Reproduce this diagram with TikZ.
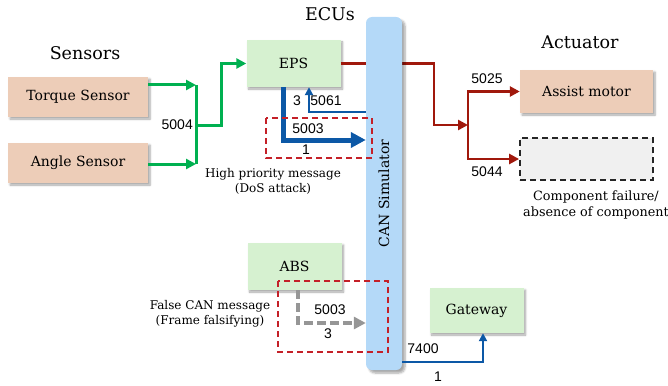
\documentclass[tikz,border=0pt]{standalone}
\usepackage{fontspec}
\setmainfont{DejaVu Serif}
\newfontfamily\numfont{Liberation Sans}
\usepackage{tikz}
\usetikzlibrary{arrows.meta,shadows.blur,positioning}
\definecolor{sensorfill}{RGB}{237,205,184}
\definecolor{ecufill}{RGB}{214,241,208}
\definecolor{canfill}{RGB}{180,217,248}
\definecolor{sigreen}{RGB}{0,176,80}
\definecolor{sigred}{RGB}{160,24,12}
\definecolor{sigblue}{RGB}{12,88,166}
\definecolor{atkred}{RGB}{196,32,40}
\definecolor{sigray}{RGB}{150,150,150}

\tikzset{
	box/.style={minimum width=140pt,minimum height=40pt,inner sep=0pt,
		font=\fontsize{14}{16}\selectfont,
		blur shadow={shadow xshift=2pt,shadow yshift=-2pt,shadow blur steps=6,shadow opacity=35}},
	sensor/.style={box,fill=sensorfill},
	ecu/.style={box,fill=ecufill,minimum width=94pt,minimum height=47pt},
	title/.style={font=\fontsize{17.5}{19}\selectfont},
	note/.style={font=\fontsize{12}{15}\selectfont,align=center},
	num/.style={font=\numfont\fontsize{14}{15}\selectfont,inner sep=1pt},
	gline/.style={sigreen,line width=3pt},
	rline/.style={sigred,line width=2.8pt},
	bline/.style={sigblue,line width=2.7pt},
	tip/.style={-{Triangle[length=10pt,width=10pt]}},
	atkbox/.style={atkred,line width=1.5pt,dash pattern=on 6pt off 4pt}
}

\begin{document}
\begin{tikzpicture}[x=1pt,y=-1pt]
	\useasboundingbox (0,0) rectangle (668,385);
	
	\foreach \x/\y/\t in {85/53/Sensors,330/14/ECUs,580/42/Actuator}
	\node[title] at (\x,\y) {\t};
	
	% sensors, ECUs, actuators
	\node[sensor] (torque) at (78,97) {Torque Sensor};
	\node[sensor] (angle) at (78,163) {Angle Sensor};
	\node[ecu] (eps) at (293.5,63.5) {EPS};
	\node[ecu] (abs) at (294.5,266.5) {ABS};
	\node[ecu,minimum height=45pt] (gw) at (476.5,310.5) {Gateway};
	\node[sensor,minimum width=133pt,minimum height=43pt] (motor) at (586.5,91.5) {Assist motor};
	\node[minimum width=133pt,minimum height=42pt,fill=black!6,draw=black!85,
	line width=1.8pt,dash pattern=on 6pt off 4pt] (absent) at (586.5,159) {};
	
	% green: sensors -> EPS
	\coordinate (gj) at (196,125);
	\draw[gline,tip] ([yshift=12pt]torque.east) -- ([yshift=12pt]torque.east -| gj);
	\draw[gline,tip] ([yshift=-1pt]angle.east) -- ([yshift=-1pt]angle.east -| gj);
	\draw[gline] ([yshift=12pt]torque.east -| gj) -- ([yshift=-1pt]angle.east -| gj);
	\draw[gline,tip] (gj) -- ++(25,0) |- (eps.west);
	\node[num,left=2pt] at (gj) {5004};
	
	% red: EPS -> actuators (runs under the bus)
	\coordinate (rj) at (468,125);
	\draw[rline,tip] (eps.east) -- (434,63.5) |- (rj);
	\draw[rline,tip] (rj) |- (motor.west);
	\draw[rline,tip] (rj) |- (absent.west);
	\node[num] at (487,79) {5025};
	\node[num] at (487,172) {5044};
	
	% the bus
	\node[rotate=90,minimum width=353pt,minimum height=36pt,fill=canfill,rounded corners=6pt,
	inner sep=0pt,font=\fontsize{14}{16}\selectfont,
	blur shadow={shadow xshift=3pt,shadow yshift=-3pt,shadow blur steps=6,shadow opacity=35}]
	(can) at (384,193.5) {CAN Simulator};
	
	% DoS attack on EPS
	\draw[bline,-{Triangle[length=8pt,width=8pt]}] (can.north |- 0,112) -| ([xshift=15.5pt]eps.south);
	\node[num] at (297,101) {3};
	\node[num] at (326,101) {5061};
	\draw[sigblue,line width=5pt,-{Triangle[length=15pt,width=15pt]}]
	([xshift=-10.5pt]eps.south) |- (can.north |- 0,140);
	\node[num] at (308,129) {5003};
	\node[num] at (306,150) {1};
	\draw[atkbox] (266,118) rectangle (372,158);
	\node[note] at (273,181) {High priority message\\(DoS attack)};
	
	% falsified frame from ABS
	\draw[sigray,line width=4pt,dash pattern=on 9pt off 4pt,-{Triangle[length=12pt,width=12pt]}]
	([xshift=3.5pt]abs.south) |- (can.north |- 0,323);
	\node[num] at (330,310) {5003};
	\node[num] at (328,334) {3};
	\draw[atkbox] (278,281) rectangle (388,352);
	\node[note] at (210,314) {False CAN message\\(Frame falsifying)};
	
	% gateway
	\draw[bline,-{Triangle[length=8pt,width=8pt]}] (can.south |- 0,362) -| ([xshift=6.5pt]gw.south);
	\node[num] at (423,349) {7400};
	\node[num] at (438,377) {1};
	
	\node[note,font=\fontsize{12.8}{16}\selectfont] at (596,205) {Component failure/\\absence of component};
\end{tikzpicture}
\end{document}
